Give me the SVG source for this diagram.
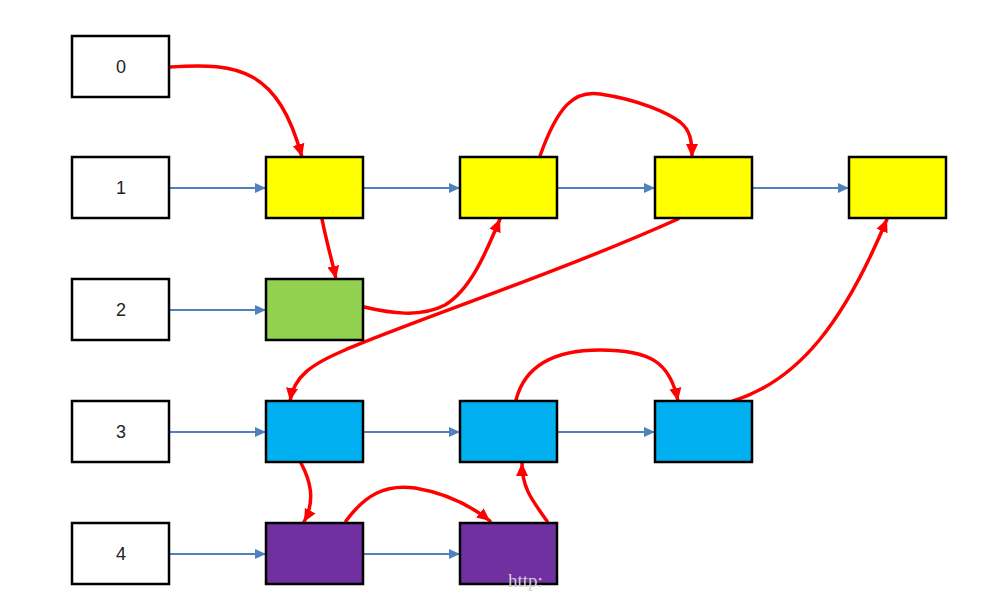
<svg xmlns="http://www.w3.org/2000/svg" width="1008" height="597" viewBox="0 0 1008 597">
<defs>
<style>
.box{stroke:#000;stroke-width:2.5}
.idx{fill:#fff}
.y{fill:#ffff00}
.g{fill:#92d050}
.b{fill:#00b0f0}
.p{fill:#7030a0}
.lbl{font-family:"Liberation Sans",Arial,sans-serif;font-size:18px;fill:#222;text-anchor:middle;dominant-baseline:central}
.blue{stroke:#4f81bd;stroke-width:2;fill:none;marker-end:url(#ab)}
.red{stroke:#ff0000;stroke-width:3.5;fill:none;stroke-linecap:round;marker-end:url(#ar)}
</style>
<marker id="ab" markerUnits="userSpaceOnUse" markerWidth="12" markerHeight="12" refX="11" refY="6" orient="auto"><path d="M0,1 L11,6 L0,11 Z" fill="#4f81bd"/></marker>
<marker id="ar" markerUnits="userSpaceOnUse" markerWidth="14" markerHeight="14" refX="13" refY="7" orient="auto"><path d="M0,1 L13,7 L0,13 Z" fill="#ff0000"/></marker>
</defs>
<rect width="1008" height="597" fill="#fff"/>
<g id="connectors">
<line class="blue" x1="169" y1="188" x2="266" y2="188"/>
<line class="blue" x1="363" y1="188" x2="460" y2="188"/>
<line class="blue" x1="558" y1="188" x2="655" y2="188"/>
<line class="blue" x1="753" y1="188" x2="849" y2="188"/>
<line class="blue" x1="169" y1="310" x2="266" y2="310"/>
<line class="blue" x1="169" y1="432" x2="266" y2="432"/>
<line class="blue" x1="363" y1="432" x2="460" y2="432"/>
<line class="blue" x1="558" y1="432" x2="655" y2="432"/>
<line class="blue" x1="169" y1="554" x2="266" y2="554"/>
<line class="blue" x1="363" y1="554" x2="460" y2="554"/>
<path class="red" d="M170,67 C240,62 278,70 302,157"/>
<path class="red" d="M322,219 C326,240 331,256 336,279"/>
<path class="red" d="M364,307 C390,313 420,318 445,305 C470,290 485,255 500,219"/>
<path class="red" d="M540,156 C558,105 575,90 600,94 C640,100 668,113 680,122 C690,130 692,140 692,157"/>
<path class="red" d="M678,219 C560,272 410,322 345,350 C312,364 294,376 290,401"/>
<path class="red" d="M301,463 C310,480 316,500 304,522"/>
<path class="red" d="M346,521 C365,495 385,484 415,488 C445,493 470,505 490,521"/>
<path class="red" d="M547,521 C532,500 522,488 522,463"/>
<path class="red" d="M516,400 C525,365 555,350 600,350 C650,350 670,362 678,401"/>
<path class="red" d="M733,401 C800,380 845,320 887,219"/>
</g>
<g id="n0"><rect class="box idx" x="72" y="36" width="97" height="61"/><text class="lbl" x="121" y="67">0</text></g>
<g id="n1"><rect class="box idx" x="72" y="157" width="97" height="61"/><text class="lbl" x="121" y="188">1</text></g>
<g id="n2"><rect class="box idx" x="72" y="279" width="97" height="61"/><text class="lbl" x="121" y="310">2</text></g>
<g id="n3"><rect class="box idx" x="72" y="401" width="97" height="61"/><text class="lbl" x="121" y="432">3</text></g>
<g id="n4"><rect class="box idx" x="72" y="523" width="97" height="61"/><text class="lbl" x="121" y="554">4</text></g>
<g id="y1"><rect class="box y" x="266" y="157" width="97" height="61"/></g>
<g id="y2"><rect class="box y" x="460" y="157" width="97" height="61"/></g>
<g id="y3"><rect class="box y" x="655" y="157" width="97" height="61"/></g>
<g id="y4"><rect class="box y" x="849" y="157" width="97" height="61"/></g>
<g id="g1"><rect class="box g" x="266" y="279" width="97" height="61"/></g>
<g id="b1"><rect class="box b" x="266" y="401" width="97" height="61"/></g>
<g id="b2"><rect class="box b" x="460" y="401" width="97" height="61"/></g>
<g id="b3"><rect class="box b" x="655" y="401" width="97" height="61"/></g>
<g id="p1"><rect class="box p" x="266" y="523" width="97" height="61"/></g>
<g id="p2"><rect class="box p" x="460" y="523" width="97" height="61"/></g>
<text x="508" y="587" font-family="Liberation Serif,serif" font-size="19" fill="#d0d0d0">http:</text>
</svg>
